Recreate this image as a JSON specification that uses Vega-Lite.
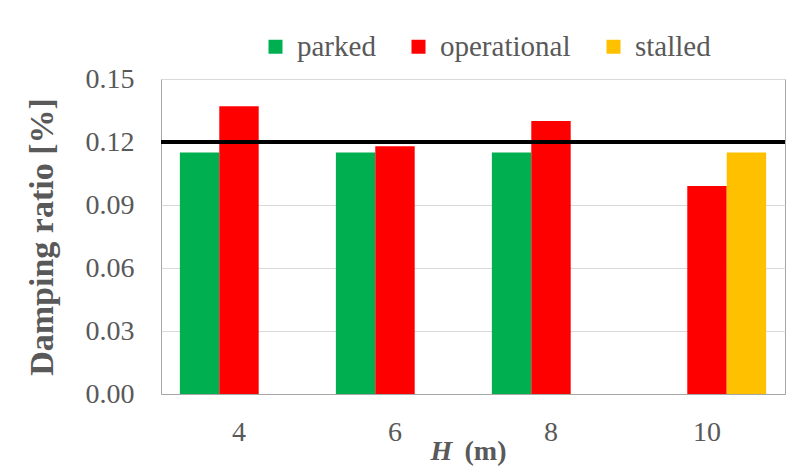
{
  "$schema": "https://vega.github.io/schema/vega-lite/v6.json",
  "width": 624,
  "height": 315,
  "autosize": {"type": "none"},
  "padding": {"left": 161, "top": 79, "right": 21, "bottom": 76},
  "background": "white",
  "config": {
    "font": "Liberation Serif",
    "view": {"stroke": "#a6a6a6", "strokeWidth": 1},
    "axis": {
      "titleFont": "Liberation Serif",
      "labelFont": "Liberation Serif",
      "labelColor": "#595959",
      "titleColor": "#595959"
    }
  },
  "data": {
    "values": [
      {"H": "4", "state": "parked", "ratio": 0.115},
      {"H": "4", "state": "operational", "ratio": 0.137},
      {"H": "6", "state": "parked", "ratio": 0.115},
      {"H": "6", "state": "operational", "ratio": 0.118},
      {"H": "8", "state": "parked", "ratio": 0.115},
      {"H": "8", "state": "operational", "ratio": 0.13},
      {"H": "10", "state": "operational", "ratio": 0.099},
      {"H": "10", "state": "stalled", "ratio": 0.115}
    ]
  },
  "layer": [
    {
      "mark": {"type": "bar"},
      "encoding": {
        "x": {
          "field": "H",
          "type": "nominal",
          "sort": ["4", "6", "8", "10"],
          "scale": {"paddingInner": 0.242, "paddingOuter": 0.121},
          "axis": {
            "title": "(m)",
            "titleFontSize": 28,
            "titleFontWeight": "bold",
            "titleX": 324,
            "titleY": 65,
            "titleBaseline": "alphabetic",
            "labelFontSize": 28,
            "labelAngle": 0,
            "labelPadding": 24,
            "ticks": false,
            "domainColor": "#a6a6a6"
          }
        },
        "xOffset": {
          "field": "state",
          "type": "nominal",
          "scale": {"domain": ["parked", "operational", "stalled"], "paddingInner": 0, "paddingOuter": 0}
        },
        "y": {
          "field": "ratio",
          "type": "quantitative",
          "scale": {"domain": [0, 0.15], "nice": false},
          "axis": {
            "title": "Damping ratio [%]",
            "titleFontSize": 34,
            "titleFontWeight": "bold",
            "titlePadding": 26,
            "values": [0, 0.03, 0.06, 0.09, 0.12, 0.15],
            "format": ".2f",
            "labelFontSize": 28,
            "labelPadding": 27,
            "ticks": false,
            "domain": false,
            "gridColor": "#d9d9d9",
            "gridWidth": 1
          }
        },
        "color": {
          "field": "state",
          "type": "nominal",
          "scale": {"domain": ["parked", "operational", "stalled"], "range": ["#00b050", "#ff0000", "#ffc000"]},
          "legend": {
            "title": null,
            "orient": "none",
            "direction": "horizontal",
            "legendX": 100,
            "legendY": -47,
            "symbolType": "square",
            "symbolSize": 196,
            "symbolStrokeWidth": 0,
            "labelFont": "Liberation Serif",
            "labelFontSize": 29,
            "labelColor": "#595959",
            "labelOffset": 7,
            "columnPadding": 28
          }
        }
      }
    },
    {
      "mark": {"type": "point", "opacity": 0},
      "encoding": {
        "x": {
          "field": "H",
          "type": "nominal",
          "sort": ["4", "6", "8", "10"],
          "scale": {"paddingInner": 0.242, "paddingOuter": 0.121},
          "axis": {
            "orient": "bottom",
            "title": "H",
            "titleFontSize": 28,
            "titleFontWeight": "bold",
            "titleFontStyle": "italic",
            "titleX": 280,
            "titleY": 65,
            "titleBaseline": "alphabetic",
            "labels": false,
            "ticks": false,
            "domain": false,
            "grid": false
          }
        }
      }
    },
    {
      "mark": {"type": "rule", "color": "black", "strokeWidth": 4},
      "encoding": {
        "y": {"datum": 0.12}
      }
    }
  ],
  "resolve": {"axis": {"x": "independent"}}
}
